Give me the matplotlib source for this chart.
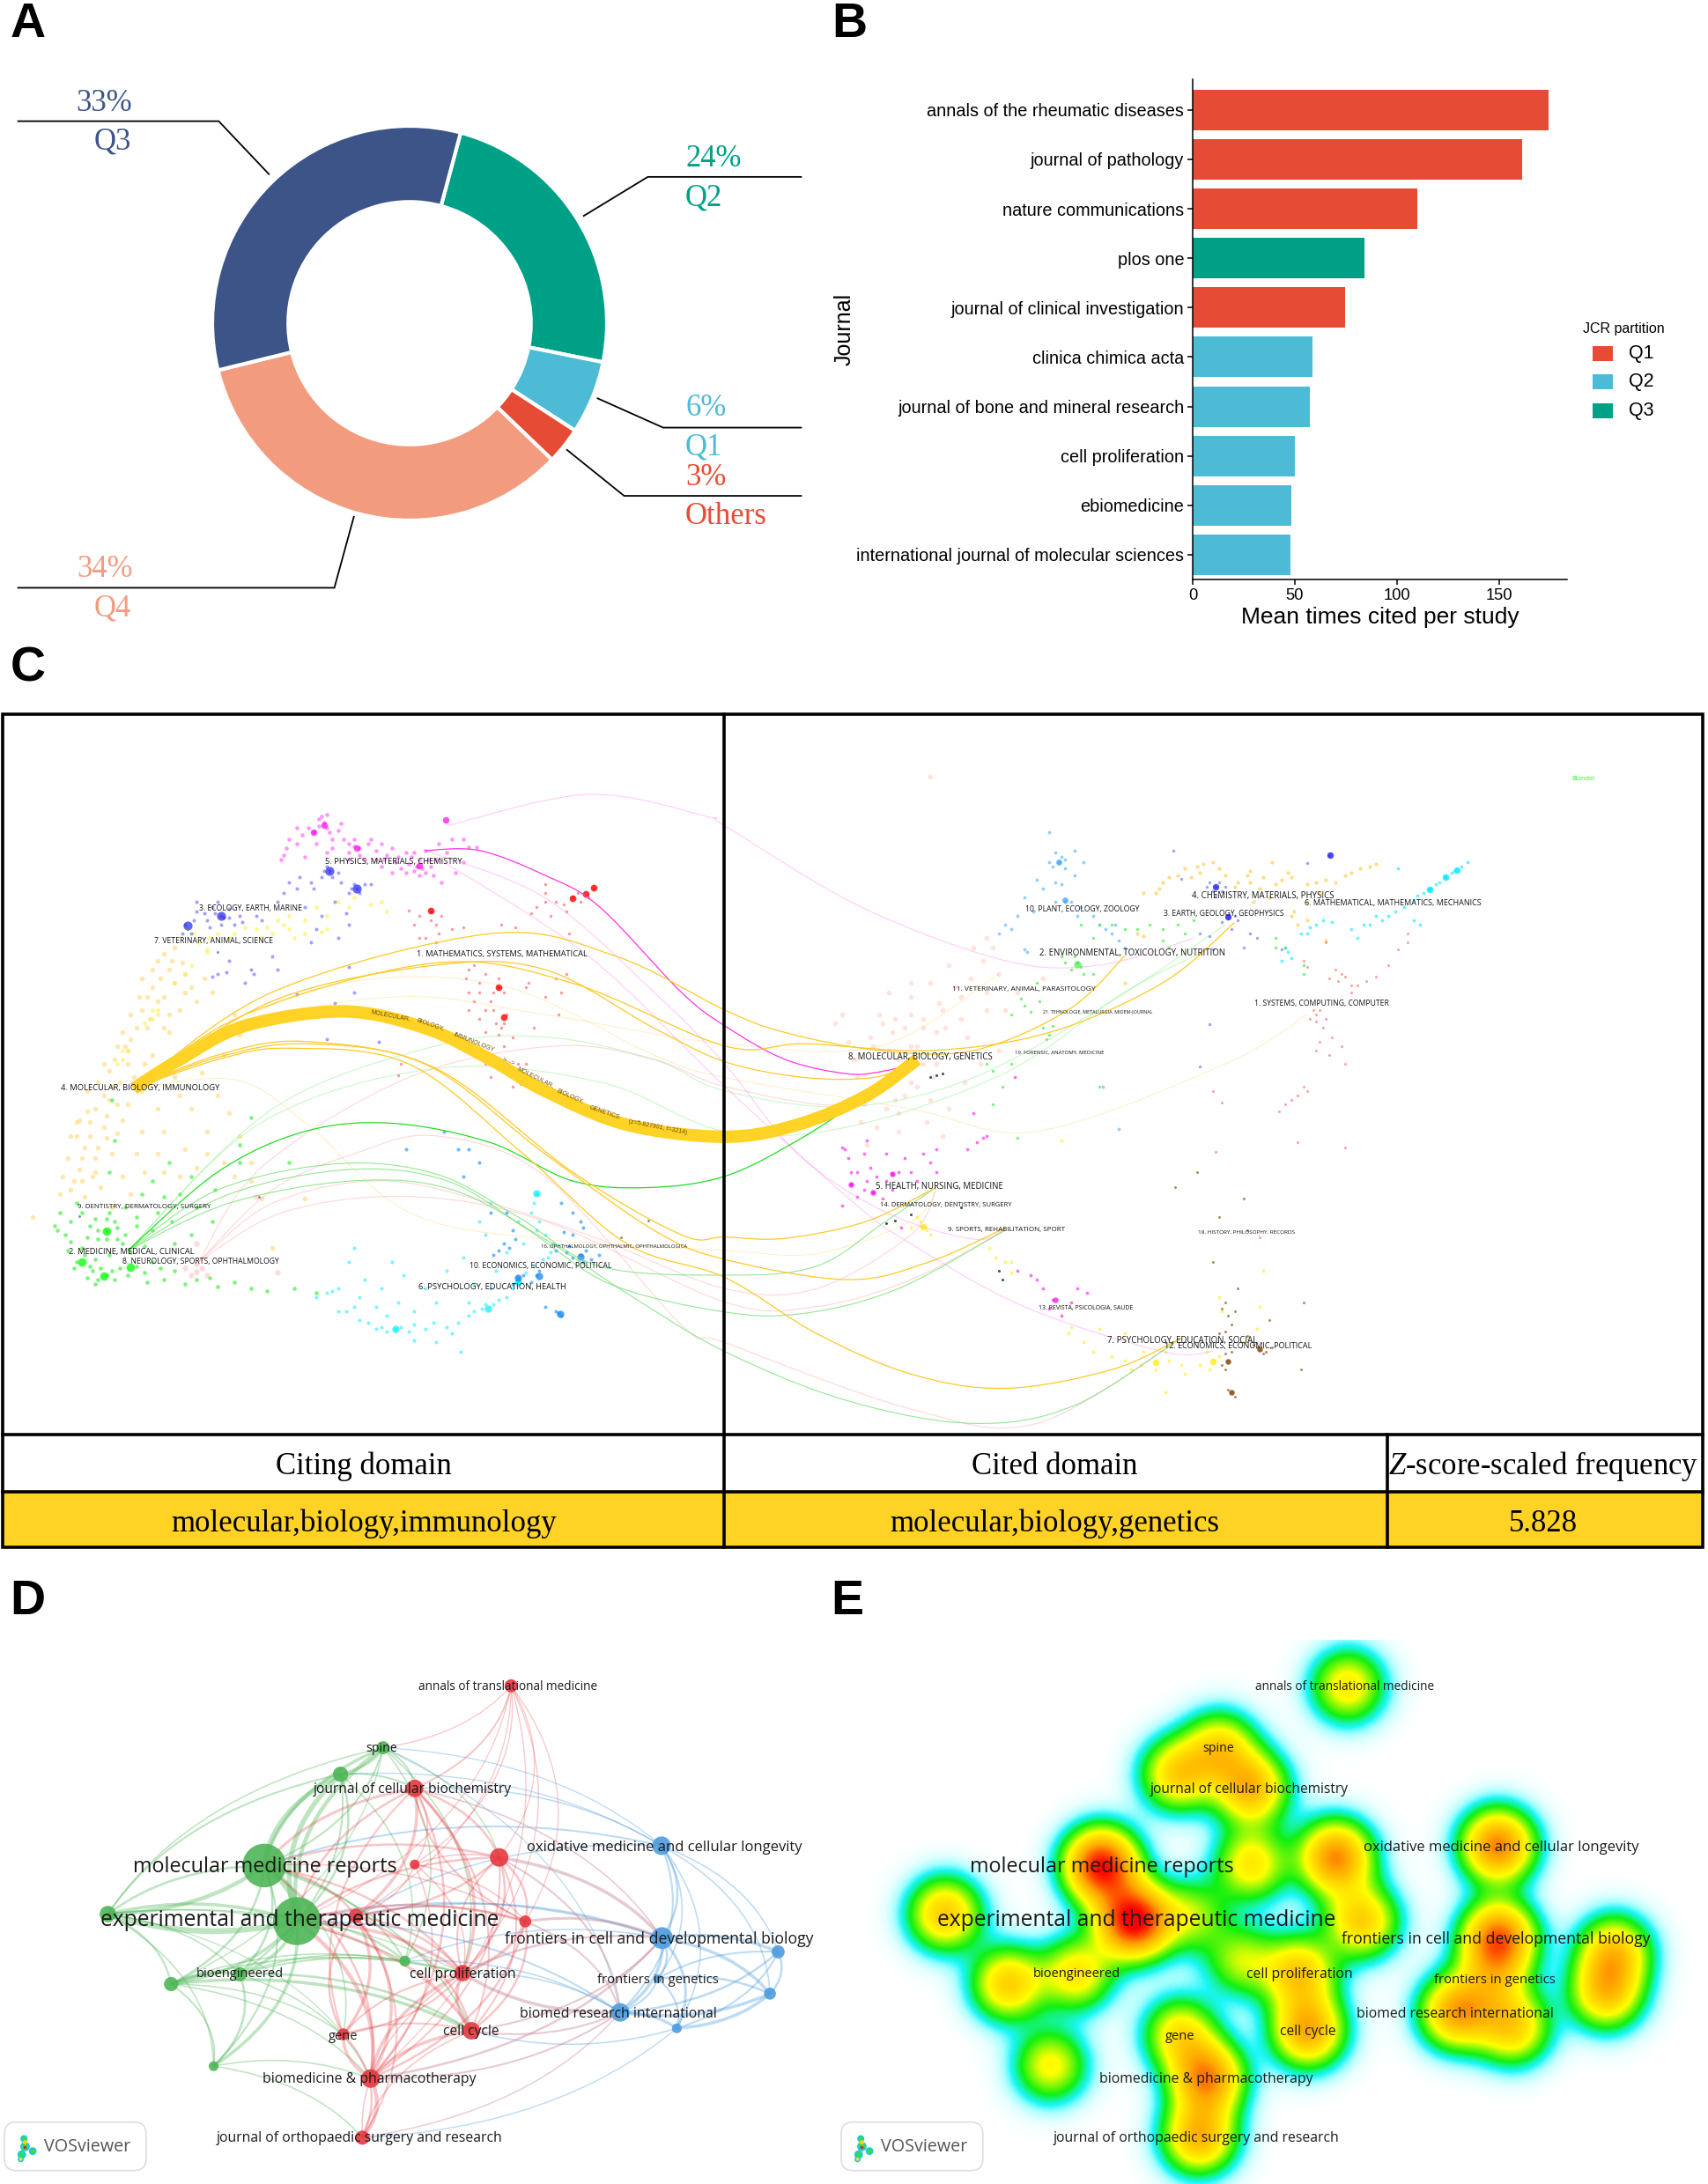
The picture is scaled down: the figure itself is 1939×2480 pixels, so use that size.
import numpy as np
import matplotlib
matplotlib.use("Agg")
import matplotlib.pyplot as plt
from matplotlib.path import Path
from matplotlib.patches import PathPatch, Rectangle, FancyBboxPatch
from matplotlib.colors import LinearSegmentedColormap

plt.rcParams['font.family'] = ['Liberation Sans', 'DejaVu Sans']
plt.rcParams['mathtext.fontset'] = 'custom'
plt.rcParams['mathtext.it'] = 'Liberation Serif:italic'
plt.rcParams['mathtext.rm'] = 'Liberation Serif'

W, H = 1939, 2480

# panel A
share_labels = ['Q2', 'Q1', 'Others', 'Q4', 'Q3']
share_values = [24, 6, 3, 34, 33]
share_colors = ['#00A087', '#4DBBD5', '#E64B35', '#F39B7F', '#3C5488']

# panel B
journals = ['annals of the rheumatic diseases', 'journal of pathology', 'nature communications',
            'plos one', 'journal of clinical investigation', 'clinica chimica acta',
            'journal of bone and mineral research', 'cell proliferation', 'ebiomedicine',
            'international journal of molecular sciences']
mean_cited = [174.5, 161.5, 110, 84, 74.5, 58.5, 57.5, 50, 48.5, 48]
partition = ['Q1', 'Q1', 'Q1', 'Q3', 'Q1', 'Q2', 'Q2', 'Q2', 'Q2', 'Q2']
partition_colors = {'Q1': '#E64B35', 'Q2': '#4DBBD5', 'Q3': '#00A087'}

# panel C table
table_head = ['Citing domain', 'Cited domain', r'$\mathit{Z}$-score-scaled frequency']
table_row = ['molecular,biology,immunology', 'molecular,biology,genetics', '5.828']

# panel C citing map (left crop units)
left_magenta = [(595,262),(590,248),(575,285),(555,290),(610,300),(640,310),(660,320),(690,325),(730,340),(770,345),
                (790,360),(760,370),(735,365),(700,360),(525,320),(515,345),(620,280),(650,300),(820,330),(850,300),
                (835,375),(810,395),(670,345),(560,340),(530,300),(600,330),(720,320),(745,330),(780,325),(770,380),
                (640,345),(600,245),(625,265),(875,317),(860,318),(545,275),(680,300),(705,345),(750,355),(775,365),
                (565,275),(585,270),(605,285),(630,300),(650,315),(675,310),(710,335),(725,350),(755,340),(785,345),
                (765,360),(745,375),(780,375),(800,345),(805,310),(830,300),(545,310),(520,335),(580,310),(610,320),
                (700,310),(660,335),(585,255),(600,275),(640,330),(690,345),(850,350),(760,330),(795,380),(720,375)]
left_magenta_core = [(818,257),(595,268),(575,285),(655,320),(770,358)]
left_blue = [(405,470),(390,450),(420,455),(380,480),(430,490),(400,440),(360,460),(445,485),(340,490),(350,510),
             (605,370),(590,385),(620,375),(655,410),(640,420),(670,400),(550,385),(530,395),(575,410),(615,440),
             (560,450),(640,490),(580,500),(500,560),(460,590),(390,605),(415,595),(545,645),(615,665),(640,585),
             (695,750),(600,745),(650,640),(680,400),(520,420),(470,470),(395,465),(410,475),(375,465),(420,475),
             (385,495),(405,490),(440,470),(355,480),(335,510),(360,440),(600,360),(610,385),(595,370),(650,400),
             (660,420),(645,410),(570,395),(545,410),(510,440),(480,480),(625,395),(635,465),(590,470),(620,520),
             (570,530),(420,570),(450,620),(465,600),(510,590),(400,600)]
left_blue_core = [(405,470),(605,370),(655,410),(345,492)]
left_yellow = [(355,510),(380,550),(520,490),(560,480),(600,470),(700,440),(540,520),(470,500),(640,450),(500,510),
               (380,545),(340,600),(290,690),(280,680),(225,770),(710,460),(420,520),(590,505),(365,530),(385,520),
               (400,510),(430,510),(450,495),(490,495),(510,480),(530,470),(580,450),(600,500),(620,440),(650,430),
               (680,445),(560,510),(530,500),(480,520),(350,580),(320,620),(280,700),(290,680),(265,710),(235,770),
               (225,790),(215,800)]
left_gold = [(290,570),(310,590),(280,630),(300,650),(260,680),(270,720),(240,745),(215,760),(200,815),(235,800),
             (220,840),(190,870),(175,900),(200,880),(165,930),(140,960),(180,985),(150,1010),(170,1050),(130,1080),
             (150,1060),(110,1090),(205,1000),(235,890),(260,860),(340,600),(330,680),(360,660),(390,640),(310,730),
             (280,780),(320,830),(350,900),(300,950),(380,950),(410,1020),(440,960),(360,1030),(300,1040),(250,1000),
             (60,1140),(480,1100),(500,1210),(560,1100),(460,1020),(430,690),(240,1090),(205,1120),(175,1040),(145,925),
             (190,940),(225,925),(265,800),(315,570),(295,610),(250,840),(230,760),(270,650),(320,540),(300,555),
             (335,575),(280,590),(260,610),(320,620),(350,630),(375,610),(290,660),(255,650),(240,690),(310,690),
             (340,640),(275,700),(250,720),(300,720),(225,730),(210,790),(190,800),(235,770),(180,840),(160,860),
             (205,850),(245,830),(160,905),(195,915),(215,890),(140,930),(130,960),(165,960),(195,965),(155,985),
             (125,1010),(175,1010),(215,955),(145,1035),(115,1050),(185,1075),(155,1095),(135,1060),(225,1050),(260,950),
             (290,900),(330,870),(370,820),(410,780),(440,735),(470,700),(400,870),(420,910),(340,990),(380,1000),
             (430,1050),(460,1060),(330,1050),(290,1000),(265,1040)]
left_red = [(1075,425),(1050,430),(1090,410),(1020,440),(1000,400),(1040,460),(1010,470),(790,460),(770,470),(800,490),
            (805,510),(780,520),(830,500),(920,490),(945,495),(860,590),(880,620),(915,630),(900,660),(870,660),
            (930,690),(920,720),(905,680),(965,630),(1020,610),(1040,600),(950,800),(960,830),(940,850),(890,800),
            (1045,510),(1000,650),(915,610),(860,640),(880,700),(940,740),(750,458),(730,825),(1025,690),(1060,420),
            (1065,440),(1080,430),(1035,445),(1000,440),(985,450),(975,465),(790,480),(810,470),(760,490),(800,530),
            (850,495),(870,580),(855,610),(890,600),(905,640),(925,640),(880,640),(890,680),(910,710),(925,710),
            (915,735),(890,730),(860,680),(970,620),(1030,640),(965,800),(955,845),(925,760),(980,720),(900,830),
            (735,800),(770,520),(1000,420)]
left_red_core = [(1075,422),(1090,408),(1050,432),(790,458),(915,630),(925,695)]
left_green = [(195,1170),(180,1190),(210,1150),(230,1180),(165,1160),(130,1150),(110,1130),(150,1210),(140,1240),(170,1260),
              (195,1270),(220,1255),(250,1250),(280,1240),(300,1280),(340,1290),(400,1295),(460,1300),(490,1305),(320,1200),
              (350,1180),(230,1120),(280,1060),(310,1020),(330,1090),(250,1140),(120,1180),(100,1160),(440,980),(460,920),
              (530,1020),(540,1300),(580,1310),(205,880),(210,970),(200,1040),(140,1110),(390,1150),(290,1130),(175,1290),
              (150,1130),(175,1145),(200,1130),(215,1165),(160,1185),(195,1190),(225,1200),(130,1195),(105,1170),(125,1215),
              (155,1225),(175,1235),(200,1225),(240,1220),(265,1205),(135,1255),(160,1275),(180,1280),(210,1280),(235,1270),
              (265,1265),(295,1255),(320,1260),(270,1285),(360,1280),(385,1275),(430,1285),(250,1160),(280,1170),(315,1150),
              (360,1120),(395,1080),(440,1020),(350,1050),(300,1095),(260,1090),(195,1145),(180,1170),(215,1190),(165,1250),
              (185,1255),(205,1260)]
left_green_core = [(195,1172),(190,1272),(240,1252),(150,1240)]
left_pink = [(360,1262),(380,1270),(340,1255),(360,1245),(470,1095),(510,1265),(360,1200),(350,1270),(370,1255)]
left_cyan = [(580,1320),(610,1305),(650,1340),(660,1370),(700,1385),(725,1390),(750,1395),(780,1390),(820,1385),(860,1360),
             (885,1345),(905,1335),(930,1320),(950,1285),(980,1250),(1010,1220),(985,1090),(975,1130),(985,1170),(650,1210),
             (700,1300),(740,1270),(800,1330),(850,1230),(890,1180),(960,1200),(760,1350),(690,1340),(845,1440),(620,1300),
             (600,1310),(635,1350),(675,1375),(690,1390),(710,1395),(735,1385),(760,1380),(795,1375),(840,1375),(870,1350),
             (890,1335),(915,1325),(940,1300),(965,1265),(995,1235),(1015,1200),(1005,1230),(980,1110),(990,1150),(1000,1180),
             (640,1240),(670,1280),(730,1330),(780,1300),(820,1260),(870,1290),(910,1260),(930,1220),(880,1150),(900,1110),
             (950,1150),(720,1240),(620,1350),(660,1320),(710,1360),(760,1415),(800,1420),(830,1400),(900,1300),(860,1330)]
left_cyan_core = [(725,1390),(895,1345),(950,1285),(985,1088)]
left_sky = [(1065,1225),(1040,1220),(1085,1235),(1050,1180),(985,1270),(950,1275),(940,1170),(915,1215),(1025,1355),(1050,1130),
            (1030,1110),(860,990),(815,950),(745,990),(1100,1225),(1000,1340),(935,1210),(850,1050),(1070,1165),(1050,1230),
            (1070,1240),(1075,1215),(1045,1205),(1020,1215),(990,1260),(975,1285),(960,1270),(940,1290),(945,1190),(925,1200),
            (905,1225),(1035,1175),(1065,1150),(1020,1350),(1030,1360),(880,1020),(840,990),(900,1130),(930,1130)]
left_sky_core = [(1065,1228),(990,1272),(950,1275),(1028,1356)]
left_grey = [(145,1138),(1140,1185),(1190,1148),(475,1095),(345,500),(400,550)]

# panel C cited map (right crop units)
right_sky = [(535,350),(530,330),(545,365),(520,285),(560,325),(500,390),(480,430),(470,470),(450,490),(440,510),
             (545,440),(570,450),(600,490),(620,510),(640,540),(480,545),(575,350),(530,395),(590,470),(630,525),
             (605,850),(630,945),(540,400),(540,340),(525,360),(520,350),(545,345),(560,380),(510,410),(530,440),
             (555,440),(565,470),(610,500),(625,490),(495,460),(460,500),(485,550)]
right_sky_core = [(535,350),(545,435)]
right_gold = [(710,385),(725,380),(760,375),(765,355),(745,385),(820,395),(840,395),(860,385),(905,385),(880,400),
              (930,400),(960,390),(1015,365),(1030,360),(990,380),(915,490),(910,460),(845,440),(875,350),(690,420),
              (660,510),(640,620),(670,515),(840,370),(780,350),(700,395),(735,365),(755,360),(800,380),(815,405),
              (835,380),(855,410),(890,390),(900,375),(945,395),(975,395),(1000,375),(930,440),(905,470),(930,480),
              (960,525),(670,420),(695,410),(870,430),(950,420),(790,365),(1040,355)]
right_blue = [(785,405),(775,395),(795,415),(805,475),(820,480),(760,510),(830,540),(780,545),(850,520),(965,335),
              (718,325),(890,545),(775,712),(760,805),(730,388),(930,352),(790,395),(780,415),(800,405),(785,425),
              (770,405),(815,470),(795,485),(775,515),(810,500),(840,510)]
right_blue_core = [(785,405),(805,472),(967,335)]
right_cyan = [(1150,385),(1165,370),(1185,350),(1135,400),(1115,420),(1100,435),(1070,460),(1050,480),(1020,490),(945,490),
              (930,510),(900,550),(890,570),(970,485),(1100,480),(1075,365),(1010,520),(1175,360),(1160,375),(1140,395),
              (1125,410),(1105,425),(1085,450),(1060,470),(1040,470),(1030,490),(955,480),(935,495),(920,510),(895,540),
              (905,565),(1000,500),(1110,490)]
right_cyan_core = [(1150,385),(1168,368),(1125,412)]
right_green = [(565,575),(555,590),(575,600),(480,670),(460,690),(520,735),(510,720),(700,500),(735,510),(570,490),
               (680,490),(710,540),(500,620),(540,560),(430,890),(445,850),(600,850),(470,965),(880,540),(925,580),
               (660,500),(590,520),(430,815),(570,585),(545,575),(560,560),(590,600),(475,655),(490,685),(505,660),
               (525,715),(515,745),(600,490),(640,500),(620,490),(725,490),(700,525),(750,480),(880,520),(895,540),
               (925,600),(420,800),(460,800)]
right_green_core = [(565,578)]
right_red = [(985,600),(975,590),(1010,625),(1040,605),(945,690),(935,700),(955,720),(950,750),(965,780),(930,860),
             (915,870),(885,905),(1090,510),(1060,580),(960,530),(930,585),(990,800),(780,860),(795,885),(915,975),
             (990,985),(785,995),(855,1185),(1000,640),(980,615),(990,605),(1000,625),(1025,615),(950,680),(945,705),
             (940,680),(960,700),(970,740),(945,770),(985,760),(925,850),(905,880),(895,890),(1075,545),(1090,530),
             (925,570),(965,610)]
right_salmon = [(290,720),(270,730),(320,700),(350,680),(380,650),(250,690),(240,760),(280,790),(300,810),(260,830),
                (240,870),(220,930),(260,900),(340,800),(390,740),(420,680),(440,600),(400,540),(360,580),(420,520),
                (300,650),(210,790),(290,870),(330,880),(350,960),(280,950),(180,710),(470,640),(510,610),(330,160),
                (230,980),(300,760),(340,730),(255,710),(275,700),(300,690),(320,720),(345,665),(370,630),(395,610),
                (415,570),(430,540),(380,700),(355,720),(310,760),(265,770),(235,740),(215,830),(250,860),(275,880),
                (310,850),(335,830),(280,820),(320,800),(300,840),(225,890),(245,940),(325,930),(385,840),(410,800),
                (440,770),(200,750),(190,690),(360,900),(280,910),(265,640),(330,620),(300,620),(420,640),(450,680)]
right_magenta = [(195,990),(200,1010),(230,970),(235,1030),(270,1045),(205,1068),(240,1085),(225,1080),(415,965),(405,975),
                 (330,1020),(290,1010),(260,1000),(190,1115),(285,1165),(465,830),(400,910),(525,1325),(565,1300),(500,1280),
                 (540,1360),(470,1260),(190,985),(225,1000),(215,1040),(245,1050),(260,1060),(280,1040),(300,1040),(320,1000),
                 (340,990),(230,1060),(215,1095),(255,1100),(205,1040),(270,1080),(310,1060),(340,1040),(420,960),(390,990),
                 (510,1300),(555,1330),(580,1310),(520,1345),(490,1270)]
right_magenta_core = [(205,1068),(240,1085),(270,1045),(530,1325)]
right_yellow = [(320,1160),(310,1140),(330,1180),(450,1240),(460,1265),(425,1210),(550,1400),(575,1420),(640,1460),(665,1470),
                (710,1460),(780,1460),(770,1440),(850,1390),(860,1260),(735,1490),(600,1390),(705,1530),(790,1320),(540,970),
                (315,1150),(325,1170),(300,1165),(435,1230),(460,1240),(555,1385),(590,1440),(620,1450),(650,1480),(690,1480),
                (730,1470),(760,1470),(790,1450),(775,1480),(830,1420),(855,1340),(795,1350),(640,1400),(670,1440),(705,1440)]
right_yellow_core = [(320,1162),(780,1462),(690,1465)]
right_brown = [(805,1360),(810,1380),(800,1330),(805,1460),(800,1445),(810,1530),(850,1430),(865,1440),(920,1480),(790,1140),
               (755,1040),(720,1075),(830,1100),(790,1400),(820,1300),(780,1240),(870,1370),(925,1330),(835,1170),(795,1345),
               (815,1350),(800,1395),(810,1440),(795,1470),(800,1480),(805,1525),(815,1540),(845,1425),(860,1445),(875,1430),
               (835,1405)]
right_brown_core = [(805,1462),(810,1530),(855,1435)]
right_dark = [(340,825),(350,822),(330,830),(260,1155),(275,1148),(300,1135),(445,1280),(440,1260),(380,1120)]

left_labels = [('5. PHYSICS, MATERIALS, CHEMISTRY', 722, 347, 5.6), ('3. ECOLOGY, EARTH, MARINE', 460, 451, 5.2),
               ('7. VETERINARY, ANIMAL, SCIENCE', 392, 525, 5.2), ('1. MATHEMATICS, SYSTEMS, MATHEMATICAL', 922, 554, 5.6),
               ('4. MOLECULAR, BIOLOGY, IMMUNOLOGY', 257, 852, 5.6), ('9. DENTISTRY, DERMATOLOGY, SURGERY', 265, 1117, 4.8),
               ('2. MEDICINE, MEDICAL, CLINICAL', 242, 1216, 5.6), ('8. NEUROLOGY, SPORTS, OPHTHALMOLOGY', 369, 1238, 5.2),
               ('16. OPHTHALMOLOGY, OPHTHALMIC, OPHTHALMOLOGICA', 1127, 1203, 3.6),
               ('10. ECONOMICS, ECONOMIC, POLITICAL', 992, 1248, 5.2), ('6. PSYCHOLOGY, EDUCATION, HEALTH', 904, 1294, 5.6)]
right_labels = [('Blondel', 1370, 163, 4.4, '#22FF22'), ('4. CHEMISTRY, MATERIALS, PHYSICS', 860, 424, 5.8, '#111111'),
                ('6. MATHEMATICAL, MATHEMATICS, MECHANICS', 1067, 440, 5.4, '#111111'),
                ('10. PLANT, ECOLOGY, ZOOLOGY', 572, 454, 5.2, '#111111'), ('3. EARTH, GEOLOGY, GEOPHYSICS', 798, 463, 5.2, '#111111'),
                ('2. ENVIRONMENTAL, TOXICOLOGY, NUTRITION', 652, 552, 5.8, '#111111'),
                ('11. VETERINARY, ANIMAL, PARASITOLOGY', 480, 632, 5, '#111111'), ('1. SYSTEMS, COMPUTING, COMPUTER', 953, 663, 5.2, '#111111'),
                ('21. TEHNOLOGIE, METALURGIA, MIDEM-JOURNAL', 597, 681, 3.2, '#111111'), ('19. FORENSIC, ANATOMY, MEDICINE', 536, 772, 3.6, '#111111'),
                ('8. MOLECULAR, BIOLOGY, GENETICS', 315, 784, 5.8, '#111111'), ('5. HEALTH, NURSING, MEDICINE', 345, 1071, 5.8, '#111111'),
                ('14. DERMATOLOGY, DENTISTRY, SURGERY', 355, 1112, 4.6, '#111111'), ('9. SPORTS, REHABILITATION, SPORT', 452, 1167, 4.8, '#111111'),
                ('18. HISTORY, PHILOSOPHY, RECORDS', 834, 1173, 3.8, '#111111'), ('13. REVISTA, PSICOLOGIA, SAUDE', 578, 1341, 4.2, '#111111'),
                ('7. PSYCHOLOGY, EDUCATION, SOCIAL', 732, 1415, 5.8, '#111111'), ('12. ECONOMICS, ECONOMIC, POLITICAL', 820, 1426, 5.4, '#111111')]

# curves: left crop waypoints, right crop waypoints
band_left = [(245,855),(330,790),(450,715),(630,683),(780,720),(900,790),(1000,860),(1150,935),(1330,962)]
band_right = [(120,935),(230,870),(310,790)]
band_words = [('MOLECULAR,', 716, 692, -11), ('BIOLOGY,', 790, 712, -19), ('IMMUNOLOGY', 870, 752, -22), ('>--->', 932, 795, -24),
              ('MOLECULAR,', 982, 830, -27), ('BIOLOGY,', 1047, 872, -24), ('GENETICS', 1110, 908, -19), ('(z=5.827901, f=3214)', 1207, 940, -11)]
gold_curves = [
    ([(245,855),(500,640),(900,510),(1130,560),(1330,680)], [(100,730),(250,770),(400,770),(550,680),(640,560)]),
    ([(245,855),(500,660),(800,580),(1000,590),(1200,720),(1330,795)], [(130,830),(240,830),(312,795)]),
    ([(245,855),(450,690),(800,575),(1050,620),(1330,760)], [(130,755),(330,770),(520,730),(700,620),(815,485)]),
    ([(245,855),(400,780),(560,750),(800,810),(1050,1040),(1250,1180),(1330,1185)], [(100,1188),(230,1150),(340,1075)]),
    ([(245,855),(400,785),(560,755),(780,800),(1000,1000),(1200,1170),(1330,1235)], [(200,1280),(330,1240),(450,1165)]),
    ([(245,855),(400,790),(530,765),(750,800),(960,1000),(1150,1200),(1330,1275)], [(150,1400),(300,1490),(450,1522),(620,1480),(730,1410)]),
]
gold_pale = [
    ([(245,855),(430,835),(560,930),(750,1130),(1000,1190),(1330,1215)], [(150,1222),(300,1150),(340,1080)]),
    ([(245,855),(500,700),(750,650),(1000,690),(1330,755)], [(250,760),(440,600)]),
    ([(245,855),(560,640),(900,620),(1200,780),(1330,830)], [(300,900),(500,950),(800,800),(930,690)]),
]
green_strong = [([(235,1215),(400,1040),(560,950),(720,932),(900,975),(1050,1060),(1190,1075),(1330,1050)], [(120,970),(230,870),(310,790)])]
green_curves = [
    ([(235,1215),(400,1080),(620,1022),(800,1045),(950,1140),(1100,1250),(1330,1270)], [(150,1250),(260,1150),(340,1075)]),
    ([(235,1215),(420,1090),(640,1035),(820,1060),(970,1170),(1120,1290),(1330,1352)], [(130,1355),(280,1300),(450,1170)]),
    ([(235,1215),(420,1110),(650,1060),(830,1080),(1000,1190),(1150,1310),(1330,1440)], [(200,1550),(400,1600),(560,1560),(730,1410)]),
]
green_pale = [
    ([(235,1215),(500,900),(800,760),(1000,740),(1200,790),(1330,860)], [(200,895),(400,830),(620,660),(800,490)]),
    ([(235,1215),(480,930),(800,810),(1100,840),(1330,950)], [(200,940),(450,820),(640,640),(780,540)]),
]
pink_curves = [
    ([(365,1240),(500,1110),(700,1060),(900,1110),(1100,1190),(1330,1300)], [(150,1300),(300,1180),(340,1080)]),
    ([(365,1240),(520,1130),(750,1095),(1000,1150),(1330,1330)], [(150,1340),(300,1280),(450,1170)]),
    ([(365,1240),(500,1080),(650,1000),(800,960),(1000,1050),(1250,1380),(1330,1420)], [(300,1568),(500,1600),(730,1410)]),
    ([(365,1240),(480,1030),(750,830),(1020,760),(1200,790),(1330,850)], [(200,890),(310,790)]),
]
magenta_strong = [([(780,325),(880,325),(1000,380),(1100,450),(1250,640),(1330,715)], [(100,790),(200,822),(260,815),(312,795)])]
magenta_pale = [
    ([(820,270),(1080,200),(1300,250),(1330,270)], [(220,450),(450,570),(600,580),(750,520)]),
    ([(780,325),(1000,430),(1200,640),(1330,800)], [(120,1000),(260,1130),(400,1190),(450,1165)]),
    ([(800,340),(1080,560),(1330,850)], [(210,1110),(300,1200),(480,1340),(700,1440),(780,1440)]),
]

# panels D and E (crop units of panel D)
node_x = [938,703,625,761,485,545,761,916,198,653,964,743,849,314,440,865,630,392,680,665,1214,1215,1428,1413,1207,1138,1242]
node_y = [160,335,410,450,668,825,665,645,805,810,826,938,972,1003,975,1135,1145,1235,1270,1437,612,873,912,1030,988,1083,1128]
node_r = [12,12,14,16,40,44,9,17,15,13,11,10,15,13,13,16,11,9,17,13,17,20,12,11,8,17,9]
node_group = ['r','g','g','r','g','g','r','r','g','r','r','g','r','g','g','r','r','g','r','r','b','b','b','b','b','b','b']
node_heat = [0.42,0.44,0.48,0.56,0.93,0.98,0.42,0.70,0.52,0.28,0.50,0.30,0.50,0.50,0.42,0.62,0.42,0.38,0.68,0.58,0.72,0.76,0.50,0.50,0.30,0.62,0.48]
group_colors = {'r': '#E5383F', 'g': '#4DB556', 'b': '#4D9CDD'}

green_edges = [(4,5,8),(5,8,6),(4,8,4),(4,2,5),(5,2,5),(4,1,3),(5,1,4),(5,13,3),(5,14,3),(4,13,2),(4,14,2),(5,17,3),(4,17,1.5),
               (8,13,1.5),(8,14,1),(8,17,1),(8,1,1),(8,2,1.5),(13,14,3),(13,17,1.5),(14,17,2),(1,2,3),(1,13,0.8),(2,14,1.5),
               (5,11,2),(4,11,1.5),(13,15,3),(14,15,2),(14,12,1.5),(13,12,1.5),(2,11,1),(1,11,1),(8,11,1),(13,11,1),(14,11,1),
               (17,19,1),(17,18,1),(8,5,3),(8,4,2),(1,3,1.5),(2,3,1.5),(1,12,1),(14,18,1),(13,16,1),(4,15,1.5),(1,7,0.8),
               (8,12,0.8),(8,16,0.6),(13,18,1),(2,5,2),(1,4,1.5),(4,16,1)]
red_edges = [(5,18,4),(4,18,2),(18,12,3),(18,15,3),(18,16,3),(18,19,4),(16,19,2),(15,12,3),(3,12,3),(3,9,3),(3,6,1),(3,7,2),(3,18,2),
             (3,15,1.5),(9,18,3),(9,16,3),(9,12,2),(9,15,2),(7,12,2),(7,10,2),(7,9,2),(7,18,1.5),(10,12,3),(10,15,2),(10,18,2),
             (12,16,1.5),(16,15,1.5),(0,3,1.5),(0,6,0.7),(0,7,0.7),(0,9,0.7),(0,10,0.7),(0,12,0.7),(0,5,0.7),(0,18,0.7),(0,1,0.7),
             (6,12,1),(6,9,1),(6,7,1),(5,9,3),(5,12,3),(5,15,3),(5,3,2),(5,7,2),(5,10,2),(4,9,2),(4,3,2.5),(4,7,2),(4,12,2),(4,10,1),
             (19,12,1),(19,15,1),(16,12,1.5),(16,3,1.5),(10,3,1.5),(6,10,1),(6,18,1),(7,15,1.5),(9,10,1.5),(9,19,1.5),(12,7,1.5),(16,9,2)]
blue_edges = [(20,21,2),(20,22,1),(20,23,1),(20,24,1),(20,25,1.5),(20,26,1),(21,22,3),(21,23,3),(21,24,2),(21,25,3),(21,26,2.5),
              (22,23,2),(22,25,2),(22,26,1.5),(23,25,3),(23,26,3),(24,25,1.5),(24,26,1.5),(24,23,2),(24,22,1.5),(25,26,2.5),
              (4,20,1.5),(3,20,1),(1,20,0.7),(2,20,0.7),(5,21,1.5),(5,25,1.5),(11,21,1),(11,25,1),(12,25,1),(26,19,0.8),(9,21,1.5),(9,20,1),(26,15,1),(1,25,0.7)]
purple_edges = [(7,21,3),(7,25,1.5),(10,21,2.5),(10,25,1.5),(12,21,2),(25,12,3),(25,15,1.5),(21,15,1.5),(21,18,2),(25,18,1.5),(25,19,0.8),(3,21,1)]

d_labels = [('annals of translational medicine', 932, 160, 9.8), ('spine', 700, 335, 10.2),
            ('journal of cellular biochemistry', 757, 450, 11.2), ('molecular medicine reports', 487, 668, 16.8),
            ('oxidative medicine and cellular longevity', 1220, 614, 12), ('experimental and therapeutic medicine', 550, 820, 17.7),
            ('frontiers in cell and developmental biology', 1210, 873, 12.7), ('bioengineered', 441, 972, 10.5),
            ('cell proliferation', 849, 972, 11.3), ('frontiers in genetics', 1208, 988, 10.7),
            ('biomed research international', 1134, 1084, 11.3), ('gene', 630, 1147, 10.5), ('cell cycle', 864, 1135, 11.2),
            ('biomedicine & pharmacotherapy', 678, 1268, 11.3), ('journal of orthopaedic surgery and research', 660, 1436, 11.3)]

logo_x = [44, 46, 40, 60, 38, 44, 46, 40, 60, 38, 46, 46]
logo_y = [1440, 1462, 1485, 1475, 1498, 1440, 1462, 1485, 1475, 1498, 1450, 1465]
logo_s = [34, 60, 50, 40, 24, 16, 30, 22, 18, 8, 12, 6]
logo_c = ['#19C8E8'] * 5 + ['#35D95A'] * 3 + ['#35D95A', '#E8E040', '#FFD400', '#E02020']

SX_D = 970 / 1568
SY_D = 630 / 1568


def px_axes(fig, x0, y0, x1, y1, **kw):
    return fig.add_axes([x0 / W, 1 - y1 / H, (x1 - x0) / W, (y1 - y0) / H], **kw)


def left_px(pts):
    return [(x * 970 / 1568, 800 + y * 800 / 1568) for x, y in pts]


def right_px(pts):
    return [(820 + x * 1119 / 1568, 800 + y * 800 / 1568) for x, y in pts]


def smooth_path(pts):
    # catmull-rom through the waypoints, written as bezier segments
    pts = np.array(pts, dtype=float)
    verts = [pts[0]]
    codes = [Path.MOVETO]
    n = len(pts)
    for i in range(n - 1):
        p0, p1, p2, p3 = pts[max(i - 1, 0)], pts[i], pts[i + 1], pts[min(i + 2, n - 1)]
        verts += [p1 + (p2 - p0) / 6, p2 - (p3 - p1) / 6, p2]
        codes += [Path.CURVE4] * 3
    return Path(verts, codes)


def draw_curves(ax, curves, color, lw, alpha, z=3):
    for part_l, part_r in curves:
        ax.add_patch(PathPatch(smooth_path(left_px(part_l) + right_px(part_r)), fc='none', ec=color, lw=lw, alpha=alpha, zorder=z))


def dots(ax, pts, color, conv, s=5, alpha=0.5):
    xy = np.array(conv(pts))
    ax.scatter(xy[:, 0], xy[:, 1], s=s * 1.2, color=color, alpha=alpha, linewidths=0, zorder=2)


def draw_logo(ax):
    box = FancyBboxPatch((8, 1393), 260, 137, boxstyle='round,pad=0,rounding_size=22', mutation_aspect=1.54,
                         fc='white', ec='#DDDDDD', lw=1.2, zorder=8)
    ax.add_patch(box)
    ax.scatter(logo_x, logo_y, s=logo_s, c=logo_c, linewidths=0, zorder=9)
    ax.text(160, 1464, 'VOSviewer', family='Open Sans', fontsize=14.2, color='#555555', ha='center', va='center', zorder=9)


def draw_d_labels(ax):
    for txt, x, y, fs in d_labels:
        ax.text(x, y + 3, txt, family='Open Sans', fontsize=fs, color='#1A1A1A', ha='center', va='center', zorder=7)


fig = plt.figure(figsize=(W / 100, H / 100), dpi=100, facecolor='white')

# A
ax_a = px_axes(fig, 465 - 224, 367 - 224, 465 + 224, 367 + 224)
ax_a.pie(share_values, colors=share_colors, startangle=75, counterclock=False, radius=1,
         wedgeprops=dict(width=0.385, edgecolor='white', linewidth=3))
ax_a.set_xlim(-1, 1)
ax_a.set_ylim(-1, 1)

# B
ax_b = px_axes(fig, 1354, 90, 1779, 658)
for i, j in enumerate(journals):
    ax_b.barh(i, mean_cited[i], height=0.82, color=partition_colors[partition[i]])
ax_b.set_yticks(range(len(journals)))
ax_b.set_yticklabels(journals, fontsize=14.3)
ax_b.set_ylim(9.5, -0.62)
ax_b.set_xlim(0, 183.4)
ax_b.set_xticks([0, 50, 100, 150])
ax_b.tick_params(axis='x', labelsize=13.2, length=4, width=1.1, pad=3)
ax_b.tick_params(axis='y', length=4, width=1.1, pad=3)
ax_b.spines['top'].set_visible(False)
ax_b.spines['right'].set_visible(False)
ax_b.spines['left'].set_linewidth(1.1)
ax_b.spines['bottom'].set_linewidth(1.1)
ax_b.set_xlabel('Mean times cited per study', fontsize=19, labelpad=3)
fig.text(959 / W, 1 - 374 / H, 'Journal', fontsize=18, rotation=90, ha='center', va='center')

# overlay in the coordinates of the shrunk picture
ov = fig.add_axes([0, 0, 1, 1], zorder=5)
ov.set_xlim(0, 1226)
ov.set_ylim(1568, 0)
ov.axis('off')
ov.patch.set_alpha(0)

ov.text(1136, 236, 'JCR partition', fontsize=11.5, ha='left', va='center')
for k, yy in zip(['Q1', 'Q2', 'Q3'], [254, 274, 295]):
    ov.add_patch(Rectangle((1143, yy - 5.5), 15, 11, fc=partition_colors[k], ec='none'))
    ov.text(1169, yy, k, fontsize=15.5, ha='left', va='center')

leader_x = [[13, 157, 193], [419, 465, 575], [429, 476, 575], [407, 448, 575], [254, 240, 13]]
leader_y = [[87, 87, 125], [155, 127, 127], [286, 307, 307], [323, 356, 356], [371, 422, 422]]
for lx, ly in zip(leader_x, leader_y):
    ov.plot(lx, ly, color='black', lw=1.3, solid_joinstyle='miter')
a_text = [('33%', 75, 74, '#3C5488'), ('Q3', 81, 102, '#3C5488'), ('24%', 512, 114, '#00A087'), ('Q2', 505, 142, '#00A087'),
          ('6%', 507, 293, '#4DBBD5'), ('Q1', 505, 321, '#4DBBD5'), ('3%', 507, 343, '#E64B35'), ('Others', 521, 371, '#E64B35'),
          ('34%', 75, 409, '#F39B7F'), ('Q4', 81, 437, '#F39B7F')]
for t, x, y, c in a_text:
    ov.text(x, y, t, family='Liberation Serif', fontsize=25, color=c, ha='center', va='center')
for t, x, y in [('A', 20, 18), ('B', 610, 18), ('C', 20, 480), ('D', 20, 1150), ('E', 608, 1150)]:
    ov.text(x, y, t, fontsize=40, fontweight='bold', ha='center', va='center')

# C frame and table
ov.add_patch(Rectangle((2, 1071), 1220, 40, fc='#FFD226', ec='none', zorder=1))
ov.add_patch(Rectangle((2, 513), 1220, 598, fc='none', ec='black', lw=2.6, zorder=6))
ov.plot([520, 520], [513, 1111], color='black', lw=2.6, zorder=6)
ov.plot([2, 1222], [1030, 1030], color='black', lw=2.6, zorder=6)
ov.plot([2, 1222], [1071, 1071], color='black', lw=2.6, zorder=6)
ov.plot([996, 996], [1030, 1111], color='black', lw=2.6, zorder=6)
for xc, head, row in zip([261, 757, 1108], table_head, table_row):
    ov.text(xc, 1053, head, family='Liberation Serif', fontsize=25, ha='center', va='center', zorder=7)
    ov.text(xc, 1094, row, family='Liberation Serif', fontsize=25, ha='center', va='center', zorder=7)

# C maps, in full pixels
ax_c = fig.add_axes([0, 0, 1, 1], zorder=4)
ax_c.set_xlim(0, W)
ax_c.set_ylim(H, 0)
ax_c.axis('off')
ax_c.patch.set_alpha(0)

dots(ax_c, left_gold, '#FFC93C', left_px, s=13, alpha=0.42)
dots(ax_c, left_yellow, '#FFF04A', left_px, s=10, alpha=0.6)
dots(ax_c, left_magenta, '#FF33F0', left_px, s=9)
dots(ax_c, left_magenta_core, '#FF00EE', left_px, s=24, alpha=0.7)
dots(ax_c, left_blue, '#4444FF', left_px, s=7)
dots(ax_c, left_blue_core, '#2222EE', left_px, s=45, alpha=0.7)
dots(ax_c, left_red, '#FF3333', left_px, s=5)
dots(ax_c, left_red_core, '#FF0000', left_px, s=26, alpha=0.8)
dots(ax_c, left_green, '#22EE22', left_px, s=9, alpha=0.6)
dots(ax_c, left_green_core, '#00FF00', left_px, s=40, alpha=0.75)
dots(ax_c, left_pink, '#FFBBBB', left_px, s=18)
dots(ax_c, left_cyan, '#22EEFF', left_px, s=7, alpha=0.6)
dots(ax_c, left_cyan_core, '#00F0FF', left_px, s=30, alpha=0.7)
dots(ax_c, left_sky, '#2E9BFF', left_px, s=7, alpha=0.7)
dots(ax_c, left_sky_core, '#1E8CF0', left_px, s=30, alpha=0.8)
dots(ax_c, left_grey, '#777777', left_px, s=4, alpha=0.8)

dots(ax_c, right_salmon, '#FFBDB0', right_px, s=14, alpha=0.42)
dots(ax_c, right_sky, '#45AEFF', right_px, s=6, alpha=0.6)
dots(ax_c, right_sky_core, '#2E9BFF', right_px, s=20, alpha=0.7)
dots(ax_c, right_gold, '#FFC93C', right_px, s=8, alpha=0.6)
dots(ax_c, right_blue, '#4444FF', right_px, s=5)
dots(ax_c, right_blue_core, '#2222EE', right_px, s=24, alpha=0.8)
dots(ax_c, right_cyan, '#22EEFF', right_px, s=6, alpha=0.7)
dots(ax_c, right_cyan_core, '#00E8FF', right_px, s=24, alpha=0.8)
dots(ax_c, right_green, '#44EE44', right_px, s=5, alpha=0.7)
dots(ax_c, right_green_core, '#22EE22', right_px, s=30, alpha=0.6)
dots(ax_c, right_red, '#FF4444', right_px, s=4)
dots(ax_c, right_magenta, '#FF33F0', right_px, s=6, alpha=0.7)
dots(ax_c, right_magenta_core, '#FF00EE', right_px, s=18, alpha=0.7)
dots(ax_c, right_yellow, '#FFF04A', right_px, s=7, alpha=0.7)
dots(ax_c, right_yellow_core, '#FFEE22', right_px, s=26, alpha=0.8)
dots(ax_c, right_brown, '#A0703A', right_px, s=4, alpha=0.8)
dots(ax_c, right_brown_core, '#8A5520', right_px, s=18, alpha=0.9)
dots(ax_c, right_dark, '#224433', right_px, s=4, alpha=0.9)

draw_curves(ax_c, gold_pale, '#FFC93C', 0.7, 0.3)
draw_curves(ax_c, pink_curves, '#FFB0B0', 0.8, 0.5)
draw_curves(ax_c, magenta_pale, '#FF80F0', 0.8, 0.4)
draw_curves(ax_c, green_pale, '#66EE66', 0.7, 0.4)
draw_curves(ax_c, green_curves, '#66DD66', 0.8, 0.7)
draw_curves(ax_c, green_strong, '#22DD22', 0.9, 1)
draw_curves(ax_c, magenta_strong, '#FF33E8', 0.9, 1)
draw_curves(ax_c, gold_curves, '#FFC926', 0.9, 1)
draw_curves(ax_c, [(band_left, band_right)], '#FFD226', 10.2, 1, z=4)

for t, x, y, rot in band_words:
    fx, fy = left_px([(x, y)])[0]
    ax_c.text(fx, fy, t, fontsize=5, color='#6E5008', rotation=rot, rotation_mode='anchor', ha='center', va='center', zorder=5)
for t, x, y, fs in left_labels:
    fx, fy = left_px([(x, y)])[0]
    ax_c.text(fx, fy + 1, t, family='Open Sans', fontsize=fs * 1.2, color='#111111', ha='center', va='center', zorder=6)
for t, x, y, fs, c in right_labels:
    fx, fy = right_px([(x, y)])[0]
    ax_c.text(fx, fy + 1, t, family='Open Sans', fontsize=fs * 1.2, color=c, ha='center', va='center', zorder=6)

# D
ax_d = px_axes(fig, 0, 1850, 970, 2480)
ax_d.set_xlim(0, 1568)
ax_d.set_ylim(1568, 0)
ax_d.axis('off')
for edges, col, alph in [(blue_edges, group_colors['b'], 0.36), (green_edges, group_colors['g'], 0.36),
                         (red_edges, group_colors['r'], 0.28), (purple_edges, '#C98A9A', 0.45)]:
    for a, b, w in edges:
        x0, y0, x1, y1 = node_x[a], node_y[a], node_x[b], node_y[b]
        cx = (x0 + x1) / 2 + 0.22 * (y1 - y0)
        cy = (y0 + y1) / 2 - 0.22 * (x1 - x0)
        ax_d.add_patch(PathPatch(Path([(x0, y0), (cx, cy), (x1, y1)], [Path.MOVETO, Path.CURVE3, Path.CURVE3]),
                                 fc='none', ec=col, lw=0.45 + 0.7 * w, alpha=alph, zorder=2))
ax_d.scatter(node_x, node_y, s=[(2 * r * SX_D * 0.72) ** 2 for r in node_r], c=[group_colors[g] for g in node_group],
             alpha=0.9, linewidths=0, zorder=4)
draw_d_labels(ax_d)
draw_logo(ax_d)

# E
ax_e = px_axes(fig, 950, 1850, 1939, 2480)
ax_e.set_xlim(0, 1568 * 989 / 970)
ax_e.set_ylim(1568, 0)
ax_e.axis('off')
grid_x = np.linspace(0, 1568 * 989 / 970, 660)
grid_y = np.linspace(30, 1568, 420)
gx, gy = np.meshgrid(grid_x, grid_y)
density = np.zeros_like(gx)
for nx, ny, w in zip(node_x, node_y, node_heat):
    density += w * np.exp(-(((gx - nx) * SX_D) ** 2 + ((gy - ny) * SY_D) ** 2) / (2 * 28.0 ** 2))
vos_map = LinearSegmentedColormap.from_list('vos', [(0, '#FFFFFF'), (0.025, '#E6FFFF'), (0.06, '#A8FFFF'), (0.105, '#18F6F6'),
                                                     (0.19, '#10F010'), (0.36, '#FFFF00'), (0.66, '#FFA500'), (0.97, '#FF0000'),
                                                     (1, '#FF0000')])
ax_e.imshow(density, extent=(grid_x[0], grid_x[-1], grid_y[-1], grid_y[0]), cmap=vos_map, vmin=0, vmax=1, aspect='auto',
            interpolation='bilinear', zorder=1)
ax_e.set_xlim(0, 1568 * 989 / 970)
ax_e.set_ylim(1568, 0)
draw_d_labels(ax_e)
draw_logo(ax_e)

fig.savefig('out.png', dpi=100, facecolor='white')
